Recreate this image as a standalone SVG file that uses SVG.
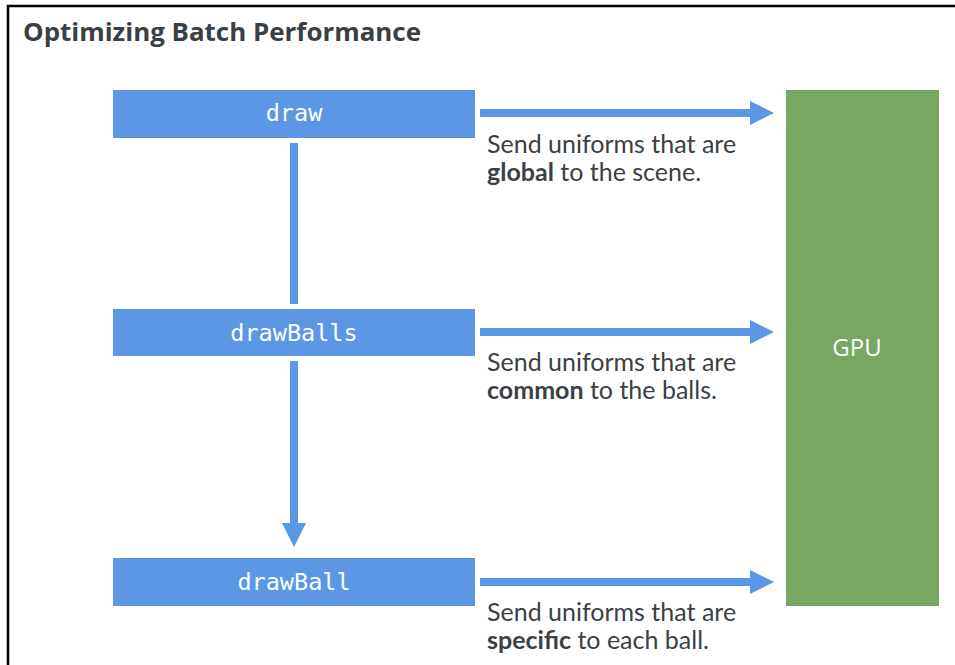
<svg xmlns="http://www.w3.org/2000/svg" width="955" height="665" viewBox="0 0 955 665">
  <style>
    .frame { fill: none; stroke: #000; stroke-width: 2.5; }
    .title { font-family: "Open Sans", "Liberation Sans", sans-serif; font-weight: 700; font-size: 24.5px; fill: #3a3f44; }
    .fn { fill: #5b97e5; }
    .fnt { font-family: "DejaVu Sans Mono", "Liberation Mono", monospace; font-size: 23.5px; fill: #ffffff; text-anchor: middle; }
    .gpu { fill: #76a863; }
    .gput { font-family: "Open Sans", "Liberation Sans", sans-serif; font-size: 24px; fill: #ffffff; text-anchor: middle; }
    .lbl { font-family: Lato, "Liberation Sans", sans-serif; font-size: 25px; fill: #3b4045; }
    .lbl tspan.b { font-weight: 700; }
    .conn { stroke: #5b97e5; stroke-width: 8; fill: none; }
  </style>
  <defs>
    <marker id="ah" viewBox="0 0 24 24" markerWidth="24" markerHeight="24" markerUnits="userSpaceOnUse" refX="2" refY="12" orient="auto">
      <path d="M0,0 L24,12 L0,24 Z" fill="#5b97e5"/>
    </marker>
  </defs>
  <rect width="955" height="665" fill="#ffffff"/>
  <path class="frame" d="M8,665 V6 H955"/>
  <text class="title" x="23" y="41" textLength="398" lengthAdjust="spacingAndGlyphs">Optimizing Batch Performance</text>

  <g id="draw">
    <rect class="fn" x="113" y="90" width="362" height="48"/>
    <text class="fnt" x="294" y="121">draw</text>
  </g>
  <g id="drawBalls">
    <rect class="fn" x="113" y="309" width="362" height="47"/>
    <text class="fnt" x="294" y="341">drawBalls</text>
  </g>
  <g id="drawBall">
    <rect class="fn" x="113" y="558" width="362" height="48"/>
    <text class="fnt" x="294" y="590">drawBall</text>
  </g>
  <g id="gpu">
    <rect class="gpu" x="786" y="90" width="153" height="516"/>
    <text class="gput" x="857" y="356">GPU</text>
  </g>

  <g id="connectors">
    <line class="conn" x1="294" y1="143" x2="294" y2="304"/>
    <line class="conn" x1="294" y1="361" x2="294" y2="525" marker-end="url(#ah)"/>
    <line class="conn" x1="480" y1="113" x2="752" y2="113" marker-end="url(#ah)"/>
    <line class="conn" x1="480" y1="332" x2="752" y2="332" marker-end="url(#ah)"/>
    <line class="conn" x1="480" y1="582" x2="752" y2="582" marker-end="url(#ah)"/>
  </g>

  <g id="labels">
    <text class="lbl" x="487" y="153">Send uniforms that are</text>
    <text class="lbl" x="487" y="181"><tspan class="b">global</tspan> to the scene.</text>
    <text class="lbl" x="487" y="371">Send uniforms that are</text>
    <text class="lbl" x="487" y="399"><tspan class="b">common</tspan> to the balls.</text>
    <text class="lbl" x="487" y="621">Send uniforms that are</text>
    <text class="lbl" x="487" y="649"><tspan class="b">specific</tspan> to each ball.</text>
  </g>
</svg>
